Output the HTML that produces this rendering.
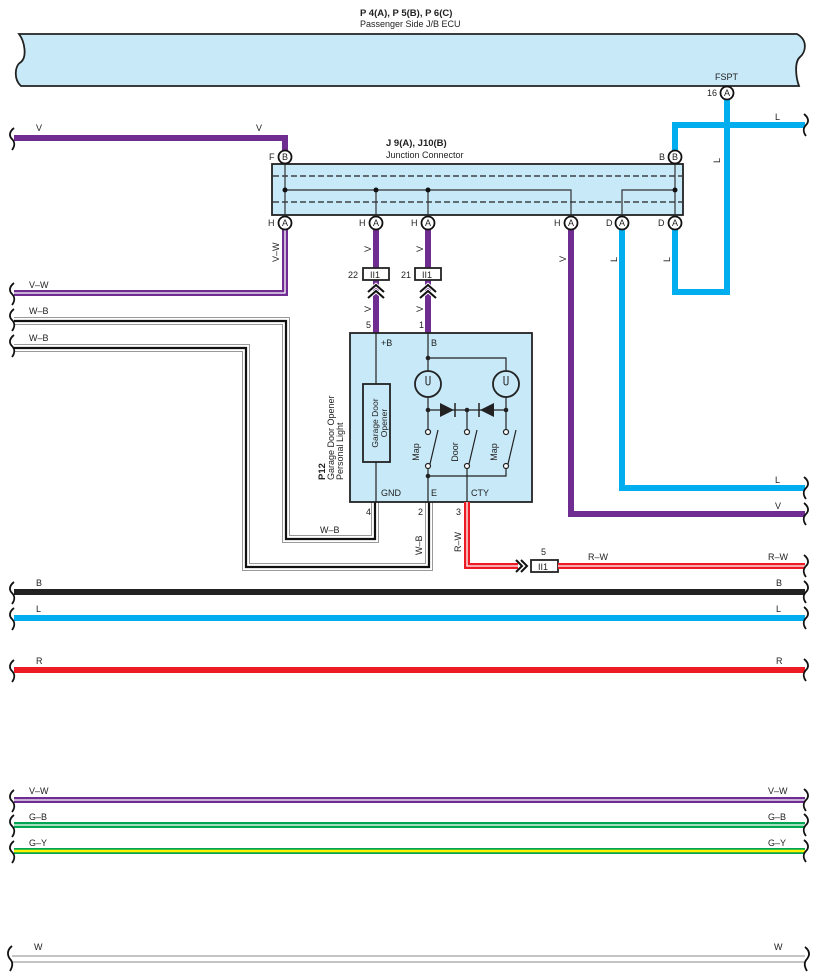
<!DOCTYPE html>
<html><head><meta charset="utf-8"><style>
html,body{margin:0;padding:0;background:#fff;}
svg{display:block;font-family:"Liberation Sans",sans-serif;}
text{font-size:9px;fill:#222;}
</style></head><body>
<svg width="817" height="978" viewBox="0 0 817 978" xmlns="http://www.w3.org/2000/svg">

<!-- ECU bar -->
<path d="M19,34 L797,34 C808,40 806,52 800,57 C794,62 796,78 799,86 L21,86 C14,80 14,66 21,62 C27,57 25,42 19,34 Z" fill="#c8e9f8" stroke="#222" stroke-width="1.8"/>
<text x="360" y="16" style="font-weight:bold;font-size:9.5px">P 4(A), P 5(B), P 6(C)</text>
<text x="360" y="27">Passenger Side J/B ECU</text>
<text x="715" y="80">FSPT</text>

<path d="M727,93 L727,292 L675,292 L675,223" fill="none" stroke="#00aeef" stroke-width="6"/>
<path d="M675,157 L675,125 L805,125" fill="none" stroke="#00aeef" stroke-width="6"/>
<path d="M727,118 L727,132" stroke="#00aeef" stroke-width="6"/>
<text x="775" y="120">L</text>
<text x="720" y="163" transform="rotate(-90 720 163)">L</text>

<path d="M14,138 L285,138 L285,157" fill="none" stroke="#6f2c91" stroke-width="6"/>
<text x="36" y="131">V</text><text x="256" y="131">V</text>

<path d="M285,223 L285,293 L14,293" fill="none" stroke="#6f2c91" stroke-width="6"/>
<path d="M285,230 L285,293 L14,293" fill="none" stroke="#fff" stroke-width="1.3"/>
<text x="29" y="288">V–W</text>
<text x="279" y="262" transform="rotate(-90 279 262)">V–W</text>

<!-- W-B wires -->
<g fill="none">
<path d="M14,321 L286,321 L286,539 L375,539 L375,502" stroke="#999" stroke-width="8"/>
<path d="M14,321 L286,321 L286,539 L375,539 L375,502" stroke="#fff" stroke-width="6"/>
<path d="M14,321 L286,321 L286,539 L375,539 L375,502" stroke="#111" stroke-width="2.2"/>
<path d="M14,348 L246,348 L246,567 L429,567 L429,502" stroke="#999" stroke-width="8"/>
<path d="M14,348 L246,348 L246,567 L429,567 L429,502" stroke="#fff" stroke-width="6"/>
<path d="M14,348 L246,348 L246,567 L429,567 L429,502" stroke="#111" stroke-width="2.2"/>
</g>
<text x="29" y="314">W–B</text><text x="29" y="341">W–B</text>
<text x="320" y="533">W–B</text>
<text x="422" y="555" transform="rotate(-90 422 555)">W–B</text>
<text x="366" y="515">4</text><text x="418" y="515">2</text><text x="456" y="515">3</text>

<!-- Junction connector -->
<text x="386" y="146" style="font-weight:bold;font-size:9.5px">J 9(A), J10(B)</text>
<text x="386" y="158">Junction Connector</text>
<rect x="272" y="164" width="411" height="51" fill="#c8e9f8" stroke="#222" stroke-width="1.8"/>
<line x1="273" y1="176" x2="682" y2="176" stroke="#222" stroke-width="1.3" stroke-dasharray="6,3"/>
<line x1="273" y1="202" x2="682" y2="202" stroke="#222" stroke-width="1.3" stroke-dasharray="6,3"/>
<g stroke="#333" stroke-width="1.2" fill="none">
<path d="M285,157 L285,223"/><path d="M675,157 L675,223"/>
<path d="M285,190 L571,190 L571,215"/>
<path d="M376,190 L376,223"/><path d="M428,190 L428,223"/>
<path d="M622,215 L622,190 L675,190"/>
</g>
<g fill="#111"><circle cx="285" cy="190" r="2.5"/><circle cx="376" cy="190" r="2.5"/><circle cx="428" cy="190" r="2.5"/><circle cx="675" cy="190" r="2.5"/></g>

<path d="M376,223 L376,333" stroke="#6f2c91" stroke-width="6"/>
<path d="M428,223 L428,333" stroke="#6f2c91" stroke-width="6"/>
<path d="M571,223 L571,514 L805,514" fill="none" stroke="#6f2c91" stroke-width="6"/>
<path d="M622,223 L622,488 L805,488" fill="none" stroke="#00aeef" stroke-width="6"/>
<text x="775" y="483">L</text><text x="775" y="509">V</text>
<text x="566" y="262" transform="rotate(-90 566 262)">V</text>
<text x="617" y="262" transform="rotate(-90 617 262)">L</text>
<text x="670" y="262" transform="rotate(-90 670 262)">L</text>
<text x="371" y="252" transform="rotate(-90 371 252)">V</text>
<text x="423" y="252" transform="rotate(-90 423 252)">V</text>
<text x="371" y="312" transform="rotate(-90 371 312)">V</text>
<text x="423" y="312" transform="rotate(-90 423 312)">V</text>

<!-- II1 connectors -->
<rect x="363" y="268" width="26" height="12" fill="#fff" stroke="#222" stroke-width="1.8"/>
<text x="370" y="278">II1</text><text x="348" y="278">22</text>
<path d="M368,292 L376,285 L384,292 M368,298 L376,291 L384,298" fill="none" stroke="#fff" stroke-width="4"/>
<path d="M368,292 L376,285 L384,292 M368,298 L376,291 L384,298" fill="none" stroke="#111" stroke-width="2"/>
<rect x="415" y="268" width="26" height="12" fill="#fff" stroke="#222" stroke-width="1.8"/>
<text x="422" y="278">II1</text><text x="401" y="278">21</text>
<path d="M420,292 L428,285 L436,292 M420,298 L428,291 L436,298" fill="none" stroke="#fff" stroke-width="4"/>
<path d="M420,292 L428,285 L436,292 M420,298 L428,291 L436,298" fill="none" stroke="#111" stroke-width="2"/>
<text x="366" y="328">5</text><text x="419" y="328">1</text>

<g fill="#fff" stroke="#111" stroke-width="1.8">
<circle cx="285" cy="157" r="6.5"/><circle cx="675" cy="157" r="6.5"/>
<circle cx="285" cy="223" r="6.5"/><circle cx="376" cy="223" r="6.5"/><circle cx="428" cy="223" r="6.5"/>
<circle cx="571" cy="223" r="6.5"/><circle cx="622" cy="223" r="6.5"/><circle cx="675" cy="223" r="6.5"/>
<circle cx="727" cy="93" r="6.5"/>
</g>
<g style="font-size:8.5px">
<text x="282" y="160">B</text><text x="672" y="160">B</text>
<text x="282" y="226">A</text><text x="373" y="226">A</text><text x="425" y="226">A</text>
<text x="568" y="226">A</text><text x="619" y="226">A</text><text x="672" y="226">A</text><text x="724" y="96">A</text>
</g>
<text x="269" y="160">F</text><text x="659" y="160">B</text>
<text x="268" y="226">H</text><text x="359" y="226">H</text><text x="411" y="226">H</text>
<text x="554" y="226">H</text><text x="606" y="226">D</text><text x="658" y="226">D</text>
<text x="707" y="96">16</text>

<!-- Device box -->
<rect x="350" y="333" width="182" height="169" fill="#c8e9f8" stroke="#222" stroke-width="1.8"/>
<text x="381" y="346">+B</text><text x="431" y="346">B</text>
<text x="381" y="496">GND</text><text x="431" y="496">E</text><text x="471" y="496">CTY</text>
<g stroke="#222" stroke-width="1.2" fill="none">
<path d="M376,333 L376,384 M376,462 L376,502"/>
<path d="M428,333 L428,371 M428,397 L428,432 M428,466 L428,502"/>
<path d="M428,358 L506,358 L506,371 M506,397 L506,432"/>
<path d="M428,410 L506,410 M467,410 L467,432"/>
<path d="M428,476 L506,476 L506,466 M467,466 L467,502"/>
<path d="M430,464 L438,430 M469,464 L477,430 M508,464 L516,430"/>
</g>
<rect x="363" y="384" width="27" height="78" fill="#c8e9f8" stroke="#222" stroke-width="1.8"/>
<text x="378" y="423" text-anchor="middle" style="font-size:8.5px" transform="rotate(-90 378 423)">Garage Door</text>
<text x="387" y="423" text-anchor="middle" style="font-size:8.5px" transform="rotate(-90 387 423)">Opener</text>
<g fill="none" stroke="#222" stroke-width="1.8"><circle cx="428" cy="384" r="13"/><circle cx="506" cy="384" r="13"/></g>
<g fill="none" stroke="#222" stroke-width="1"><path d="M426,376 L426,383 A2,2 0 0 0 430,383 L430,376"/><path d="M504,376 L504,383 A2,2 0 0 0 508,383 L508,376"/></g>
<path d="M440,403 L454,410 L440,417 Z M494,403 L480,410 L494,417 Z" fill="#222"/>
<path d="M455,403 L455,417 M479,403 L479,417" stroke="#222" stroke-width="1.5"/>
<g fill="#222"><circle cx="428" cy="358" r="2.3"/><circle cx="428" cy="410" r="2.3"/><circle cx="467" cy="410" r="2.3"/><circle cx="506" cy="410" r="2.3"/><circle cx="428" cy="476" r="2.3"/></g>
<g fill="#fff" stroke="#222" stroke-width="1.2">
<circle cx="428" cy="432" r="2.5"/><circle cx="467" cy="432" r="2.5"/><circle cx="506" cy="432" r="2.5"/>
<circle cx="428" cy="466" r="2.5"/><circle cx="467" cy="466" r="2.5"/><circle cx="506" cy="466" r="2.5"/>
</g>
<text x="419" y="452" text-anchor="middle" transform="rotate(-90 419 452)">Map</text>
<text x="458" y="452" text-anchor="middle" transform="rotate(-90 458 452)">Door</text>
<text x="497" y="452" text-anchor="middle" transform="rotate(-90 497 452)">Map</text>
<text x="325" y="480" style="font-weight:bold;font-size:9.5px" transform="rotate(-90 325 480)">P12</text>
<text x="334" y="480" transform="rotate(-90 334 480)">Garage Door Opener</text>
<text x="343" y="480" transform="rotate(-90 343 480)">Personal Light</text>

<!-- R-W -->
<path d="M467,502 L467,566 L518,566" fill="none" stroke="#ed1c24" stroke-width="6"/>
<path d="M467,502 L467,566 L518,566" fill="none" stroke="#fff" stroke-width="1.3"/>
<path d="M516,560 L522,566 L516,572 M521,560 L527,566 L521,572" fill="none" stroke="#111" stroke-width="2"/>
<rect x="531" y="560" width="27" height="12" fill="#fff" stroke="#222" stroke-width="1.8"/>
<text x="538" y="570">II1</text><text x="541" y="555">5</text>
<path d="M558,566 L805,566" stroke="#ed1c24" stroke-width="6"/>
<path d="M558,566 L805,566" stroke="#fff" stroke-width="1.3"/>
<text x="588" y="560">R–W</text><text x="768" y="560">R–W</text>
<text x="461" y="552" transform="rotate(-90 461 552)">R–W</text>

<path d="M14,592 L805,592" stroke="#222" stroke-width="6"/>
<path d="M14,618 L805,618" stroke="#00aeef" stroke-width="6"/>
<path d="M14,670 L805,670" stroke="#ed1c24" stroke-width="6"/>
<text x="36" y="586">B</text><text x="776" y="586">B</text>
<text x="36" y="612">L</text><text x="776" y="612">L</text>
<text x="36" y="664">R</text><text x="776" y="664">R</text>

<path d="M14,800 L805,800" stroke="#6f2c91" stroke-width="6"/>
<path d="M14,800 L805,800" stroke="#fff" stroke-width="1.3"/>
<path d="M14,825 L805,825" stroke="#00a651" stroke-width="6"/>
<path d="M14,825 L805,825" stroke="#fff" stroke-width="1.3"/>
<path d="M14,851 L805,851" stroke="#00a651" stroke-width="6"/>
<path d="M14,851 L805,851" stroke="#fff200" stroke-width="2.5"/>
<text x="29" y="794">V–W</text><text x="768" y="794">V–W</text>
<text x="29" y="820">G–B</text><text x="768" y="820">G–B</text>
<text x="29" y="846">G–Y</text><text x="768" y="846">G–Y</text>

<path d="M12,959 L805,959" stroke="#888" stroke-width="7"/>
<path d="M12,959 L805,959" stroke="#fff" stroke-width="5"/>
<text x="34" y="950">W</text><text x="774" y="950">W</text>

<g fill="none" stroke="#111" stroke-width="1.8">
<path d="M14,128 C9,132 9,136 12,139 C15,142 15,146 12,150"/>
<path d="M14,283 C9,287 9,291 12,294 C15,297 15,301 12,305"/>
<path d="M14,309 C9,313 9,317 12,320 C15,323 15,327 12,331"/>
<path d="M14,335 C9,339 9,343 12,346 C15,349 15,353 12,357"/>
<path d="M14,582 C9,586 9,590 12,593 C15,596 15,600 12,604"/>
<path d="M14,608 C9,612 9,616 12,619 C15,622 15,626 12,630"/>
<path d="M14,660 C9,664 9,668 12,671 C15,674 15,678 12,682"/>
<path d="M14,790 C9,794 9,798 12,801 C15,804 15,808 12,812"/>
<path d="M14,815 C9,819 9,823 12,826 C15,829 15,833 12,837"/>
<path d="M14,841 C9,845 9,849 12,852 C15,855 15,859 12,863"/>
<path d="M12,946 C7,950 7,955 10,959 C13,962 13,966 10,971"/>
<path d="M804,114 C809,118 809,122 806,125 C803,128 803,132 806,136"/>
<path d="M804,477 C809,481 809,485 806,488 C803,491 803,495 806,499"/>
<path d="M804,503 C809,507 809,511 806,514 C803,517 803,521 806,525"/>
<path d="M804,555 C809,559 809,563 806,566 C803,569 803,573 806,577"/>
<path d="M804,581 C809,585 809,589 806,592 C803,595 803,599 806,603"/>
<path d="M804,607 C809,611 809,615 806,618 C803,621 803,625 806,629"/>
<path d="M804,659 C809,663 809,667 806,670 C803,673 803,677 806,681"/>
<path d="M804,789 C809,793 809,797 806,800 C803,803 803,807 806,811"/>
<path d="M804,814 C809,818 809,822 806,825 C803,828 803,832 806,836"/>
<path d="M804,840 C809,844 809,848 806,851 C803,854 803,858 806,862"/>
<path d="M805,947 C810,951 810,955 807,959 C804,962 804,966 807,971"/>
</g>
</svg>
</body></html>
